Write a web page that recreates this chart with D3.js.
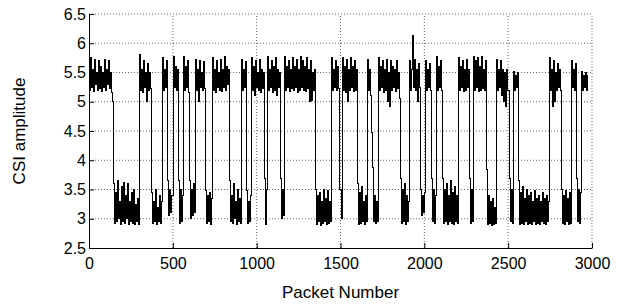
<!DOCTYPE html>
<html>
<head>
<meta charset="utf-8">
<script src="https://cdn.jsdelivr.net/npm/d3@7"></script>
<style>
  body { margin: 0; background: #fff; }
  svg { display: block; }
  text { font-family: "Liberation Sans", Arial, sans-serif; fill: #000; }
  .grid line { stroke: #000; stroke-width: 0.6; stroke-dasharray: 1 2; }
</style>
</head>
<body>
<svg id="chart" width="641" height="306"></svg>
<script>
const width = 641,
  height = 306;

// packet spacing of the samples below (one sample per ~pixel column of the trace)
const packetStep = 6;

// CSI amplitude, segment by segment (high ~5.2-5.75, low ~2.9-3.65)
const csi = [
  5.7,5.2,5.75,5.25,5.55,5.18,5.72,5.3,5.5,5.2,5.7,5.22,5.6,5.18,5.5,5.25,5.72,5.2,5.55,5.3,5.7,5.22,5.5,5.15,5.0,
  3.6,2.92,3.45,2.95,3.65,3.0,3.3,2.9,3.55,2.95,3.62,2.92,3.4,3.0,3.6,2.9,3.3,2.95,3.45,2.92,3.5,2.9,3.25,2.95,3.35,2.9,
  5.8,5.2,5.55,5.15,5.7,5.25,5.5,5.0,5.65,5.2,5.5,5.22,
  3.45,2.92,3.3,2.95,3.5,2.9,3.2,2.95,3.4,2.92,3.3,
  5.75,5.2,5.55,5.25,5.7,
  3.65,3.05,3.5,3.1,3.4,
  5.78,5.25,5.6,5.2,5.55,
  3.65,2.92,3.5,2.95,3.4,
  5.78,5.2,5.6,5.25,5.7,5.15,
  3.65,3.0,3.5,3.05,3.6,3.1,
  5.72,5.2,5.55,5.0,5.7,5.25,5.5,5.2,5.68,5.22,
  3.48,2.92,3.4,2.95,3.45,2.9,3.35,
  5.75,5.2,5.55,5.15,5.7,5.25,5.5,5.2,5.72,5.18,5.55,5.25,5.78,5.2,5.6,5.3,5.55,
  3.65,2.95,3.4,2.92,3.6,3.0,3.3,2.9,3.5,2.95,3.35,2.92,
  5.72,5.2,5.55,5.25,5.68,
  3.48,2.92,3.3,2.95,3.4,
  5.75,5.2,5.6,5.1,5.7,5.25,5.5,5.2,5.72,5.15,5.55,5.22,5.5,
  3.68,2.9,3.5,
  5.78,5.2,5.55,5.25,5.7,5.15,5.6,5.2,5.75,5.1,5.55,5.25,5.5,
  3.68,3.0,3.5,3.05,
  5.78,5.2,5.6,5.25,5.7,5.18,5.55,5.22,5.75,5.2,5.6,5.25,5.72,5.15,5.55,5.2,5.78,5.25,5.7,5.2,5.6,5.18,5.75,5.22,5.55,5.0,5.7,5.02,5.5,5.2,5.55,
  3.5,2.9,3.4,2.95,3.45,2.88,3.3,2.92,3.5,2.95,3.35,2.9,3.48,2.92,3.3,2.95,
  5.75,5.2,5.55,5.25,5.7,5.2,5.6,5.22,
  3.5,3.0,
  5.75,5.2,5.6,5.15,5.72,5.0,5.55,5.2,5.75,5.25,5.6,5.18,5.7,5.2,5.55,
  3.6,2.9,3.45,2.92,3.55,2.95,3.3,2.9,3.4,2.95,
  5.72,5.2,5.55,5.1,4.47,
  3.88,2.95,3.4,2.92,3.3,2.95,
  5.75,5.2,5.6,5.25,5.7,5.15,5.55,5.2,5.72,5.0,5.5,4.92,5.7,5.2,5.6,5.25,5.55,5.18,5.7,5.22,5.5,5.05,
  3.68,2.92,3.5,2.95,3.6,2.9,3.4,2.95,3.3,
  5.7,5.2,5.55,6.14,5.25,5.72,5.2,5.55,5.0,5.65,5.25,
  3.5,3.05,3.4,3.1,3.45,
  5.7,5.2,5.55,5.25,5.65,5.2,
  3.68,2.95,3.5,2.92,3.4,
  5.77,5.2,5.6,5.25,5.7,5.2,
  3.68,2.92,3.5,2.95,3.6,2.9,3.4,2.95,3.65,2.92,3.45,2.9,3.55,2.95,3.4,2.92,
  5.75,5.2,5.6,5.25,5.7,5.18,5.55,5.2,5.72,5.25,5.55,
  3.68,2.92,3.5,2.95,
  5.77,5.2,5.7,5.25,5.75,5.18,5.6,5.2,5.78,5.22,5.55,5.2,5.7,
  3.85,2.9,3.4,2.92,3.3,2.88,3.35,2.9,3.2,2.92,
  5.72,5.2,5.55,5.25,5.7,5.1,5.55,5.0,5.5,4.92,5.55,5.2,
  3.68,2.95,3.5,2.92,
  5.52,5.2,5.45,5.25,5.5,
  3.65,2.9,3.45,2.92,3.55,2.9,3.35,2.95,3.5,2.9,3.4,2.92,3.45,2.9,3.3,2.95,3.48,2.9,3.35,2.92,3.4,2.9,3.3,2.95,3.45,2.92,3.35,2.9,3.4,2.95,3.3,
  5.75,5.2,5.55,4.92,5.7,5.0,5.5,5.2,5.65,5.25,5.55,5.2,
  3.5,2.92,3.4,2.9,3.48,2.95,3.35,2.9,3.45,2.92,
  5.7,5.25,5.55,5.2,5.65,
  3.68,2.95,3.5,2.92,3.45,
  5.52,5.2,5.45,5.25,5.5,5.2,5.45
];

const xTicks = [0, 500, 1000, 1500, 2000, 2500, 3000];
const yTicks = [2.5, 3, 3.5, 4, 4.5, 5, 5.5, 6, 6.5];
const xLabel = "Packet Number";
const yLabel = "CSI amplitude";

const margin = { top: 14, right: 49, bottom: 58, left: 89 };

const x = d3.scaleLinear().domain([0, 3000]).range([margin.left, width - margin.right]);
const y = d3.scaleLinear().domain([2.5, 6.5]).range([height - margin.bottom, margin.top]);

const svg = d3.select("#chart");

// dotted grid
const grid = svg.append("g").classed("grid", true);
grid
  .selectAll(".vertical")
  .data(xTicks.slice(1))
  .enter()
  .append("line")
  .classed("vertical", true)
  .attr("x1", (d) => x(d))
  .attr("x2", (d) => x(d))
  .attr("y1", y(2.5))
  .attr("y2", y(6.5));
grid
  .selectAll(".horizontal")
  .data(yTicks.slice(1))
  .enter()
  .append("line")
  .classed("horizontal", true)
  .attr("x1", x(0))
  .attr("x2", x(3000))
  .attr("y1", (d) => y(d))
  .attr("y2", (d) => y(d));

// trace - step curve so each packet column is a vertical stroke, like the dense original
const line = d3
  .line()
  .x((d, i) => x(i * packetStep))
  .y((d) => y(d))
  .curve(d3.curveStep);

svg
  .append("path")
  .datum(csi)
  .attr("fill", "none")
  .attr("stroke", "#000")
  .attr("stroke-width", 1)
  .attr("shape-rendering", "crispEdges")
  .attr("d", line);

// axes, matlab style: ticks pointing inward
const fmt = d3.format("");
const xAxis = svg
  .append("g")
  .attr("transform", `translate(0,${y(2.5)})`)
  .call(d3.axisBottom(x).tickValues(xTicks).tickFormat(fmt).tickSizeInner(-5).tickSizeOuter(0).tickPadding(10));
const yAxis = svg
  .append("g")
  .attr("transform", `translate(${x(0)},0)`)
  .call(d3.axisLeft(y).tickValues(yTicks).tickFormat(fmt).tickSizeInner(-5).tickSizeOuter(0).tickPadding(3));

[xAxis, yAxis].forEach((g) => {
  g.selectAll("path.domain").attr("stroke", "#000").attr("stroke-width", 1);
  g.selectAll(".tick line").attr("stroke", "#000");
  g.selectAll("text").attr("font-size", 16).attr("font-family", '"Liberation Sans", Arial, sans-serif');
});

svg
  .append("text")
  .attr("x", (x(0) + x(3000)) / 2)
  .attr("y", 298)
  .attr("text-anchor", "middle")
  .attr("font-size", 17)
  .text(xLabel);

svg
  .append("text")
  .attr("transform", `translate(25,${(y(2.5) + y(6.5)) / 2}) rotate(-90)`)
  .attr("text-anchor", "middle")
  .attr("font-size", 17)
  .text(yLabel);
</script>
</body>
</html>
